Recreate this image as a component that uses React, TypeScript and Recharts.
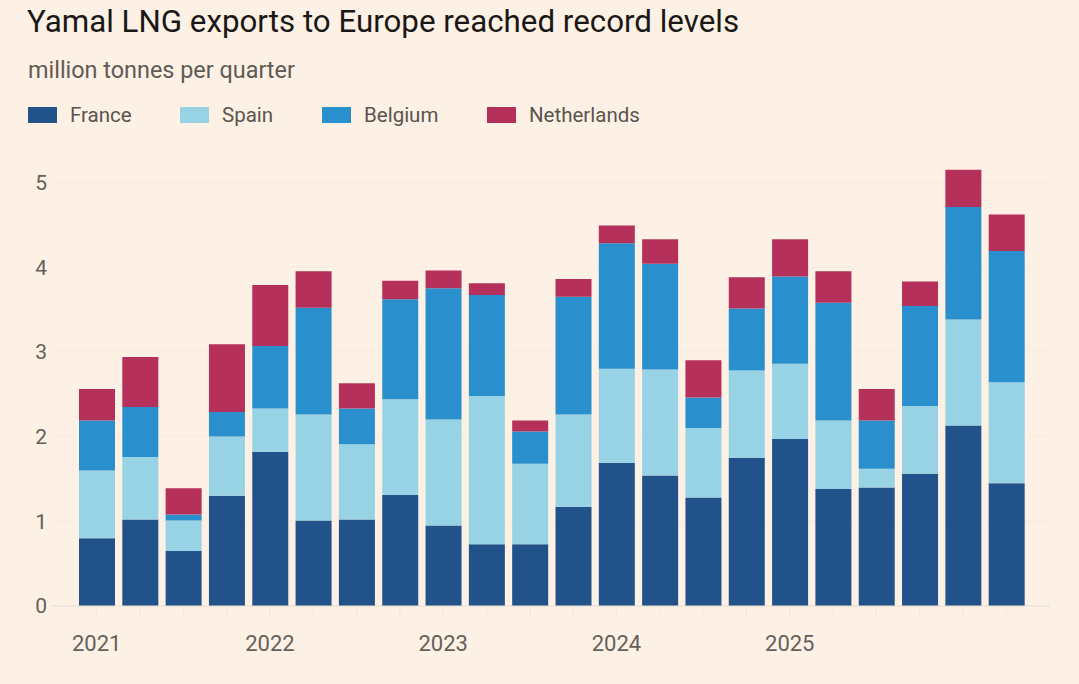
import { Bar, BarChart, CartesianGrid, XAxis, YAxis } from "recharts";

const quarters = [
  "2021 Q1", "2021 Q2", "2021 Q3", "2021 Q4",
  "2022 Q1", "2022 Q2", "2022 Q3", "2022 Q4",
  "2023 Q1", "2023 Q2", "2023 Q3", "2023 Q4",
  "2024 Q1", "2024 Q2", "2024 Q3", "2024 Q4",
  "2025 Q1", "2025 Q2", "2025 Q3", "2025 Q4",
  "2026 Q1", "2026 Q2",
];
const france = [0.8, 1.02, 0.65, 1.3, 1.82, 1.01, 1.02, 1.31, 0.95, 0.73, 0.73, 1.17, 1.69, 1.54, 1.28, 1.75, 1.97, 1.38, 1.4, 1.56, 2.13, 1.45];
const spain = [0.8, 0.74, 0.36, 0.7, 0.51, 1.25, 0.89, 1.13, 1.25, 1.75, 0.95, 1.09, 1.11, 1.25, 0.82, 1.03, 0.89, 0.81, 0.22, 0.8, 1.25, 1.19];
const belgium = [0.59, 0.59, 0.07, 0.29, 0.74, 1.26, 0.42, 1.18, 1.55, 1.19, 0.38, 1.39, 1.48, 1.25, 0.36, 0.73, 1.03, 1.39, 0.57, 1.18, 1.33, 1.55];
const netherlands = [0.37, 0.59, 0.31, 0.8, 0.72, 0.43, 0.3, 0.22, 0.21, 0.14, 0.13, 0.21, 0.21, 0.29, 0.44, 0.37, 0.44, 0.37, 0.37, 0.29, 0.44, 0.43];
const yTicks = [0, 1, 2, 3, 4, 5];
const yearLabels = ["2021", "2022", "2023", "2024", "2025"];

const series = [
  { key: "France", color: "#215289" },
  { key: "Spain", color: "#98d3e5" },
  { key: "Belgium", color: "#2a8fcd" },
  { key: "Netherlands", color: "#b5305a" },
];
const legendLeft = [28, 180, 322, 487];

const data = quarters.map((q, i) => ({
  q,
  France: france[i],
  Spain: spain[i],
  Belgium: belgium[i],
  Netherlands: netherlands[i],
}));

const font = "Roboto, 'Noto Sans', sans-serif";

function yearTick(q: string) {
  const [year, qq] = q.split(" ");
  return qq === "Q1" && yearLabels.includes(year) ? year : "";
}

export default function App() {
  return (
    <div
      style={{
        position: "absolute",
        left: 0,
        top: 0,
        width: 1079,
        height: 684,
        background: "#fdf0e4",
        fontFamily: font,
        overflow: "hidden",
      }}
    >
      <div style={{ position: "absolute", left: 27, top: 3, fontSize: 31.3, color: "#1a1817", whiteSpace: "nowrap" }}>
        Yamal LNG exports to Europe reached record levels
      </div>
      <div style={{ position: "absolute", left: 28, top: 56, fontSize: 23.4, color: "#5f5a55", whiteSpace: "nowrap" }}>
        million tonnes per quarter
      </div>
      {series.map((s, i) => (
        <div
          key={s.key}
          style={{ position: "absolute", left: legendLeft[i], top: 103, display: "flex", alignItems: "center", whiteSpace: "nowrap" }}
        >
          <span style={{ display: "inline-block", width: 29, height: 16, background: s.color, marginRight: 13 }} />
          <span style={{ fontSize: 20.5, color: "#5a5550" }}>{s.key}</span>
        </div>
      ))}
      <div style={{ position: "absolute", left: 0, top: 0 }}>
        <BarChart width={1079} height={684} data={data} margin={{ top: 140, right: 29, bottom: 48, left: 0 }}>
          <CartesianGrid vertical={false} horizontalValues={yTicks} stroke="#f8ebdf" />
          <XAxis
            dataKey="q"
            interval={0}
            tickFormatter={yearTick}
            padding={{ left: 23, right: 22 }}
            axisLine={{ stroke: "#e8ddd2" }}
            tickLine={{ stroke: "#f3e6da" }}
            tickSize={10}
            tickMargin={19}
            tick={{ fill: "#66605a", fontSize: 22, fontFamily: font }}
          />
          <YAxis
            width={52}
            domain={[0, 5.5]}
            ticks={yTicks}
            axisLine={false}
            tickLine={false}
            tickSize={0}
            tickMargin={5}
            tick={{ fill: "#66605a", fontSize: 21, fontFamily: font }}
          />
          {series.map((s) => (
            <Bar key={s.key} dataKey={s.key} stackId="a" fill={s.color} barSize={36} isAnimationActive={false} />
          ))}
        </BarChart>
      </div>
    </div>
  );
}
